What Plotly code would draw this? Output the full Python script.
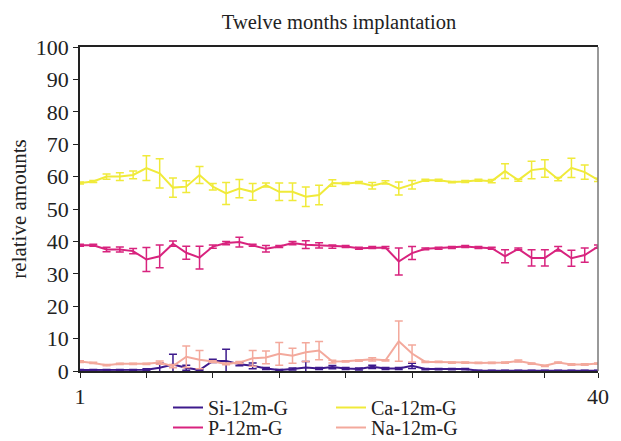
import plotly.graph_objects as go

months = list(range(1, 41))

si_vals = [0.3, 0.3, 0.3, 0.3, 0.3, 0.4, 1.0, 2.0, 1.0, 0.3,
           3.1, 3.1, 2.1, 1.6, 0.8, 0.3, 0.6, 1.1, 0.8, 1.2,
           0.8, 0.6, 1.3, 0.8, 0.8, 1.6, 0.6, 0.6, 0.6, 0.6,
           0.1, 0.1, 0.1, 0.1, 0.1, 0.1, 0.1, 0.1, 0.1, 0.1]
si_err = [0.2, 0.2, 0.2, 0.2, 0.2, 0.3, 1.5, 3.2, 0.8, 0.2,
          0.5, 3.6, 0.5, 0.9, 0.3, 0.2, 0.3, 1.8, 0.3, 0.5,
          0.3, 0.3, 0.5, 0.3, 0.3, 0.8, 0.2, 0.2, 0.2, 0.2,
          0.1, 0.1, 0.1, 0.1, 0.1, 0.1, 0.1, 0.1, 0.1, 0.1]

p_vals = [38.8, 38.8, 37.5, 37.5, 37.0, 34.4, 35.4, 39.3, 36.5, 35.0,
          38.4, 39.5, 39.8, 38.8, 37.7, 38.4, 39.5, 39.0, 38.8, 38.4,
          38.4, 37.9, 38.1, 38.1, 33.8, 36.4, 37.7, 37.9, 38.1, 38.4,
          38.1, 37.9, 35.4, 37.7, 34.9, 34.9, 37.7, 34.8, 35.8, 38.4]
p_err = [0.3, 0.3, 0.7, 0.8, 0.8, 3.7, 3.5, 0.8, 2.0, 3.5,
         0.5, 0.5, 1.5, 0.3, 1.0, 0.3, 0.5, 1.2, 0.8, 0.5,
         0.3, 0.3, 0.3, 0.3, 4.2, 2.0, 0.3, 0.3, 0.3, 0.3,
         0.3, 0.3, 2.0, 0.3, 2.5, 2.5, 0.7, 2.5, 2.2, 0.5]

ca_vals = [58.0, 58.5, 60.0, 60.0, 60.5, 62.6, 61.0, 56.6, 56.9, 60.5,
           56.9, 54.8, 56.3, 55.3, 57.4, 55.3, 55.3, 53.8, 54.3, 58.0,
           57.9, 58.2, 57.2, 58.2, 56.3, 57.5, 58.9, 58.9, 58.3, 58.5,
           58.9, 58.6, 61.7, 58.9, 62.0, 62.5, 59.2, 62.7, 61.4, 59.0]
ca_err = [0.3, 0.3, 0.8, 1.2, 1.2, 3.8, 4.5, 3.0, 1.8, 2.6,
          1.0, 3.4, 2.8, 2.6, 0.6, 2.7, 2.7, 3.0, 3.0, 1.0,
          0.3, 0.3, 1.0, 0.5, 2.0, 1.3, 0.3, 0.3, 0.2, 0.3,
          0.3, 0.5, 2.3, 0.3, 2.7, 2.7, 0.5, 3.0, 2.2, 0.5]

na_vals = [2.9, 2.5, 1.8, 2.2, 2.2, 2.2, 2.6, 1.5, 4.4, 3.5,
           2.9, 2.2, 2.6, 3.9, 4.2, 5.3, 4.7, 5.8, 6.3, 2.9,
           3.0, 3.2, 3.6, 3.3, 9.2, 5.4, 2.8, 2.8, 2.6, 2.6,
           2.5, 2.5, 2.6, 3.1, 2.3, 1.6, 2.6, 2.0, 2.0, 2.3]
na_err = [0.3, 0.2, 0.2, 0.2, 0.2, 0.2, 0.5, 0.5, 3.3, 2.8,
          0.3, 0.3, 0.3, 2.4, 2.0, 3.5, 2.3, 2.9, 2.8, 0.4,
          0.2, 0.2, 0.5, 0.2, 6.2, 2.6, 0.2, 0.2, 0.2, 0.2,
          0.2, 0.2, 0.2, 0.3, 0.2, 0.2, 0.2, 0.2, 0.2, 0.2]

series = [
    ("Si-12m-G", si_vals, si_err, "#3d1a8c", "legend"),
    ("P-12m-G", p_vals, p_err, "#d8237e", "legend2"),
    ("Ca-12m-G", ca_vals, ca_err, "#f0ea3a", "legend"),
    ("Na-12m-G", na_vals, na_err, "#f3a99c", "legend2"),
]

x_tickvals = [1, 6, 11, 16, 21, 26, 31, 36, 40]
x_ticktext = ["1", "", "", "", "", "", "", "", "40"]
y_tickvals = list(range(0, 101, 10))

font_family = "Liberation Serif"

fig = go.Figure()
for name, vals, err, color, lg in series:
    fig.add_trace(go.Scatter(
        x=months, y=vals, name=name, mode="lines",
        line=dict(color=color, width=2),
        error_y=dict(type="data", array=err, visible=True,
                     color=color, thickness=1.5, width=4),
        legend=lg,
    ))

leg_common = dict(orientation="h", xanchor="left", yanchor="top",
                  font=dict(family=font_family, size=20, color="#222"),
                  entrywidth=118, entrywidthmode="pixels",
                  itemwidth=30, bgcolor="rgba(0,0,0,0)",
                  traceorder="normal", borderwidth=0)

PLOT_L, PLOT_R, PLOT_T, PLOT_B = 80, 598, 47, 371
pw, ph = PLOT_R - PLOT_L, PLOT_B - PLOT_T

fig.update_layout(
    width=621, height=441,
    margin=dict(l=PLOT_L, r=621 - PLOT_R, t=PLOT_T, b=441 - PLOT_B, autoexpand=False),
    paper_bgcolor="white", plot_bgcolor="white",
    font=dict(family=font_family, size=22, color="#222"),
    title=dict(text="Twelve months implantation", x=0.5, xref="paper",
               xanchor="center", yref="container", y=1 - 22 / 441, yanchor="middle",
               font=dict(family=font_family, size=20.5, color="#222")),
    showlegend=True,
    legend=dict(x=(168 - 80) / pw, y=(PLOT_B - 388) / ph, **leg_common),
    legend2=dict(x=(168 - 80) / pw, y=(PLOT_B - 408) / ph, **leg_common),
    xaxis=dict(range=[1, 40], tickvals=x_tickvals, ticktext=x_ticktext,
               ticks="outside", ticklen=5, tickcolor="#222",
               showline=True, linecolor="#222", linewidth=1.5,
               mirror=True, showgrid=False, zeroline=False, automargin=False,
               tickfont=dict(family=font_family, size=22, color="#222")),
    yaxis=dict(range=[0, 100], tickvals=y_tickvals,
               ticks="outside", ticklen=5, tickcolor="#222",
               showline=True, linecolor="#222", linewidth=1.5,
               showgrid=False, zeroline=False, automargin=False,
               title=dict(text="relative amounts", standoff=3,
                          font=dict(family=font_family, size=21, color="#222")),
               tickfont=dict(family=font_family, size=22, color="#222")),
    shapes=[dict(type="line", xref="paper", yref="paper", x0=1, x1=1,
                 y0=0, y1=1, line=dict(color="#777", width=1.5))],
)

fig.write_html("out.html", config={"displayModeBar": False},
               post_script="document.body.style.margin='0';document.body.style.overflow='hidden';")
